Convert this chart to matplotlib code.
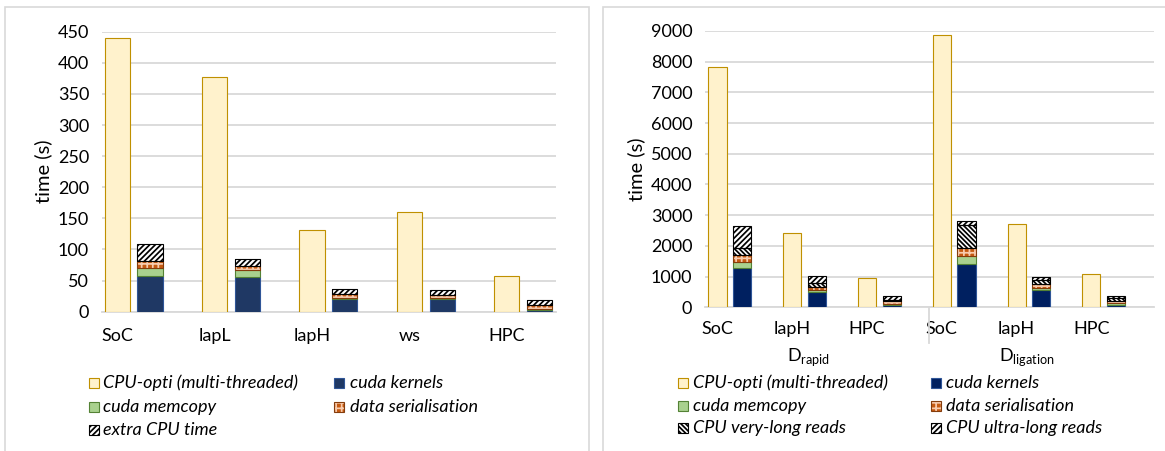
import numpy as np
import matplotlib.pyplot as plt
from matplotlib.patches import Rectangle
from matplotlib.lines import Line2D

plt.rcParams['font.family'] = ['Lato', 'DejaVu Sans']
plt.rcParams['hatch.linewidth'] = 1.25

# Datos: panel izquierdo
cats_L = ['SoC', 'lapL', 'lapH', 'ws', 'HPC']
cpu_L = [440, 378, 131, 160, 57]
kern_L = [58, 56, 20, 20, 3]
memc_L = [13, 11, 2, 2, 2]
seri_L = [10, 7, 6, 5, 5]
extra_L = [27, 11, 9, 8, 8]

# Datos: panel derecho (D_rapid y D_ligation)
cats_R = ['SoC', 'lapH', 'HPC', 'SoC', 'lapH', 'HPC']
grupos_R = ['rapid', 'ligation']
cpu_R = [7820, 2420, 965, 8870, 2720, 1095]
kern_R = [1270, 500, 80, 1400, 550, 90]
memc_R = [215, 60, 40, 280, 90, 40]
seri_R = [220, 90, 70, 260, 110, 70]
vlong_R = [240, 130, 60, 740, 150, 100]
ulong_R = [715, 250, 120, 140, 100, 70]

c_cpu, e_cpu = '#FFF2CC', '#BF9000'
c_memc, e_memc = '#A9D18E', '#548235'
c_seri, h_seri = '#C55A11', '#F8CBAD'
grid_c = '#D9D9D9'
fs = 13
h_fwd, h_back, h_seri_pat = '/' * 6, '\\' * 7, '+++'


def capa(ax, x, h, base, w, fc, ec, hatch=None, hc='black'):
    # relleno (con rayado opcional) y luego el borde por separado
    if hatch:
        ax.bar(x, h, w, bottom=base, facecolor=fc, edgecolor=hc, linewidth=0,
               hatch=hatch, zorder=3)
        ax.bar(x, h, w, bottom=base, fill=False, edgecolor=ec, linewidth=0.8,
               zorder=4)
    else:
        ax.bar(x, h, w, bottom=base, color=fc, edgecolor=ec, linewidth=0.8,
               zorder=3)


def estilo(ax, ymax, paso):
    ax.set_ylim(0, ymax)
    ax.set_yticks(np.arange(0, ymax + 1, paso))
    ax.yaxis.grid(True, color=grid_c, linewidth=1.3, zorder=0)
    ax.set_axisbelow(True)
    for s in ['top', 'right', 'left']:
        ax.spines[s].set_visible(False)
    ax.spines['bottom'].set_color(grid_c)
    ax.spines['bottom'].set_linewidth(1.3)
    ax.tick_params(length=0, labelsize=fs, pad=9)
    ax.set_ylabel('time (s)', fontsize=fs + 1.5, labelpad=4)


def cuadro(fig, x, y, fc, ec, hatch=None, hc='black'):
    W, H = fig.get_size_inches() * fig.dpi
    r = Rectangle((x / W, 1 - (y + 5) / H), 10 / W, 10 / H, transform=fig.transFigure,
                  facecolor=fc, edgecolor=hc if hatch else ec, linewidth=0 if hatch else 0.8,
                  hatch=hatch)
    fig.add_artist(r)
    if hatch:
        fig.add_artist(Rectangle((x / W, 1 - (y + 5) / H), 10 / W, 10 / H,
                                 transform=fig.transFigure, fill=False,
                                 edgecolor=ec, linewidth=0.8))


def texto(fig, x, y, s):
    W, H = fig.get_size_inches() * fig.dpi
    fig.text(x / W, 1 - y / H, s, fontsize=fs, style='italic', va='center', ha='left')


fig = plt.figure(figsize=(11.65, 4.51), dpi=100)

# marcos de cada panel
for (x0, x1) in [(5, 589), (603, 1170)]:
    fig.add_artist(Rectangle((x0 / 1165, -0.05), (x1 - x0) / 1165, 1.05 - 7 / 451,
                             transform=fig.transFigure, fill=False,
                             edgecolor='#D9D9D9', linewidth=1.2))

# ---------- panel izquierdo ----------
ax1 = fig.add_axes([0.0872, 0.3089, 0.3899, 0.6208])
x = np.arange(len(cats_L))
w, dx = 0.259, 0.337
capa(ax1, x, cpu_L, 0, w, c_cpu, e_cpu)
b = np.zeros(len(x))
capa(ax1, x + dx, kern_L, b, w, '#1F3864', '#2F5597'); b += kern_L
capa(ax1, x + dx, memc_L, b, w, c_memc, e_memc); b += memc_L
capa(ax1, x + dx, seri_L, b, w, c_seri, '#843C0C', hatch=h_seri_pat, hc=h_seri); b += seri_L
capa(ax1, x + dx, extra_L, b, w, 'white', 'black', hatch=h_fwd); b += extra_L
estilo(ax1, 450, 50)
ax1.set_xlim(-0.16, 4.503)
ax1.set_xticks(x)
ax1.set_xticklabels(cats_L)
ax1.tick_params(axis='x', pad=12)

texto(fig, 103.5, 383, 'CPU-opti (multi-threaded)')
texto(fig, 350, 383, 'cuda kernels')
texto(fig, 103.5, 407, 'cuda memcopy')
texto(fig, 350, 407, 'data serialisation')
texto(fig, 103.5, 430, 'extra CPU time')
cuadro(fig, 88.5, 383, c_cpu, e_cpu)
cuadro(fig, 334, 383, '#1F3864', '#2F5597')
cuadro(fig, 88.5, 407, c_memc, e_memc)
cuadro(fig, 334, 407, c_seri, '#843C0C', hatch=h_seri_pat, hc=h_seri)
cuadro(fig, 88.5, 430, 'white', 'black', hatch=h_fwd)

# ---------- panel derecho ----------
ax2 = fig.add_axes([0.605, 0.3186, 0.3852, 0.6127])
x = np.arange(len(cats_R))
w, dx = 0.242, 0.329
xc = x - 0.5 + 3.6 / 74.8 + w / 2
capa(ax2, xc, cpu_R, 0, w, c_cpu, e_cpu)
b = np.zeros(len(x))
capa(ax2, xc + dx, kern_R, b, w, '#002060', '#2F5597'); b += kern_R
capa(ax2, xc + dx, memc_R, b, w, c_memc, e_memc); b += memc_R
capa(ax2, xc + dx, seri_R, b, w, c_seri, '#843C0C', hatch=h_seri_pat, hc=h_seri); b += seri_R
capa(ax2, xc + dx, vlong_R, b, w, 'white', 'black', hatch=h_back); b += vlong_R
capa(ax2, xc + dx, ulong_R, b, w, 'white', 'black', hatch=h_fwd); b += ulong_R
estilo(ax2, 9000, 1000)
ax2.set_xlim(-0.5, 5.5)
ax2.set_xticks(xc)
ax2.set_xticklabels(cats_R)
ax2.tick_params(axis='x', pad=10)
# separador entre grupos del eje de categorias
ax2.add_line(Line2D([2.5, 2.5], [0, -0.13], transform=ax2.get_xaxis_transform(),
                    color=grid_c, linewidth=1.3, clip_on=False))
for g, xg in zip(grupos_R, [0.88, 3.8]):
    ax2.text(xg, -0.18, r'D$_{\mathregular{%s}}$' % g, transform=ax2.get_xaxis_transform(),
             ha='center', va='center', fontsize=fs)

texto(fig, 692.7, 383, 'CPU-opti (multi-threaded)')
texto(fig, 945.7, 383, 'cuda kernels')
texto(fig, 692.7, 406, 'cuda memcopy')
texto(fig, 945.7, 406, 'data serialisation')
texto(fig, 692.7, 428, 'CPU very-long reads')
texto(fig, 945.7, 428, 'CPU ultra-long reads')
cuadro(fig, 677.5, 383, c_cpu, e_cpu)
cuadro(fig, 930.5, 383, '#002060', '#2F5597')
cuadro(fig, 677.5, 406, c_memc, e_memc)
cuadro(fig, 930.5, 406, c_seri, '#843C0C', hatch=h_seri_pat, hc=h_seri)
cuadro(fig, 677.5, 428, 'white', 'black', hatch=h_back)
cuadro(fig, 930.5, 428, 'white', 'black', hatch=h_fwd)

plt.savefig('out.png', dpi=100)
